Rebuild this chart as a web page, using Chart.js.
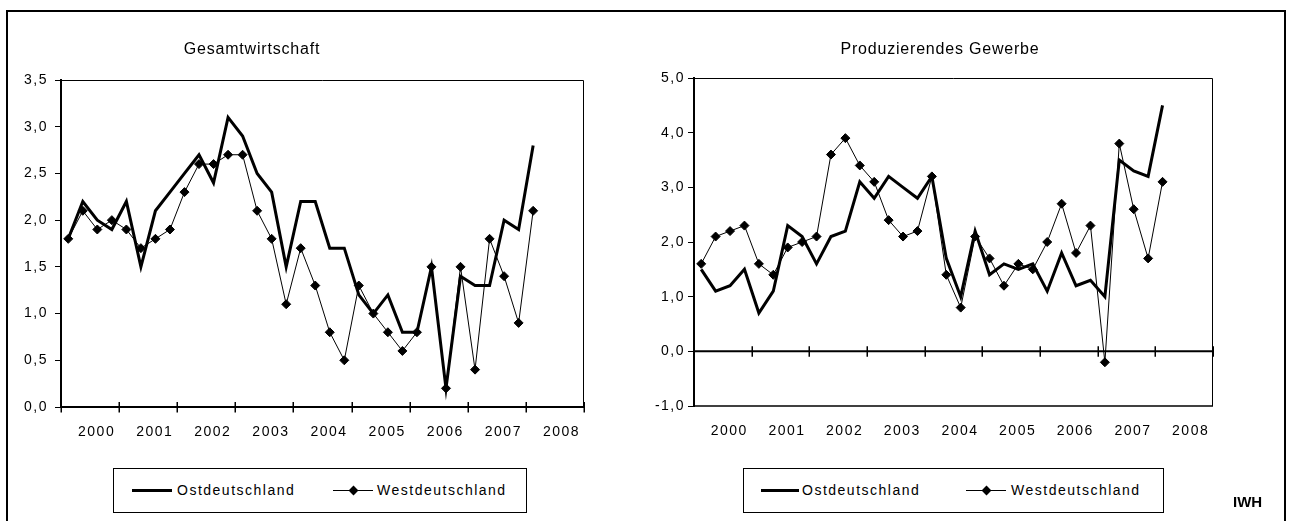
<!DOCTYPE html>
<html>
<head>
<meta charset="utf-8">
<script src="https://cdn.jsdelivr.net/npm/chart.js@4/dist/chart.umd.min.js"></script>
<style>
html,body{margin:0;padding:0;background:#fff;}
body{width:1289px;height:521px;position:relative;overflow:hidden;font-family:"Liberation Sans",Arial,sans-serif;color:#000;}
#frame{position:absolute;left:6px;top:10px;width:1280px;height:600px;border:2px solid #000;box-sizing:border-box;}
canvas{position:absolute;top:0;}
.title{position:absolute;font-size:16px;letter-spacing:0.8px;white-space:nowrap;transform:translate(-50%,-50%);}
.legend{position:absolute;top:468px;height:45px;border:1px solid #000;box-sizing:border-box;background:#fff;}
.ltxt{position:absolute;font-size:14px;letter-spacing:1.5px;white-space:nowrap;transform:translateY(-50%);}
.lline{position:absolute;background:#000;}
.ldia{position:absolute;width:7px;height:7px;background:#000;transform:rotate(45deg);}
#iwh{position:absolute;left:1233px;top:493px;font-size:15px;font-weight:bold;}
</style>
</head>
<body>
<div id="frame"></div>
<canvas id="c1" width="640" height="521" style="left:0px"></canvas>
<canvas id="c2" width="649" height="521" style="left:640px"></canvas>
<div class="title" style="left:252px;top:49px">Gesamtwirtschaft</div>
<div class="title" style="left:940px;top:49px">Produzierendes Gewerbe</div>

<div class="legend" style="left:113px;width:414px"></div>
<div class="lline" style="left:132px;top:488.5px;width:40px;height:3px"></div>
<div class="ltxt" style="left:177px;top:490px">Ostdeutschland</div>
<div class="lline" style="left:333px;top:489.5px;width:40px;height:1px"></div>
<div class="ldia" style="left:349.5px;top:486.5px"></div>
<div class="ltxt" style="left:377px;top:490px">Westdeutschland</div>

<div class="legend" style="left:743px;width:421px"></div>
<div class="lline" style="left:761px;top:488.5px;width:38px;height:3px"></div>
<div class="ltxt" style="left:802px;top:490px">Ostdeutschland</div>
<div class="lline" style="left:966px;top:489.5px;width:40px;height:1px"></div>
<div class="ldia" style="left:982.5px;top:486.5px"></div>
<div class="ltxt" style="left:1011px;top:490px">Westdeutschland</div>

<div id="iwh">IWH</div>

<script>
// ---- data ----
const quarters = [
  'I/2000','II/2000','III/2000','IV/2000',
  'I/2001','II/2001','III/2001','IV/2001',
  'I/2002','II/2002','III/2002','IV/2002',
  'I/2003','II/2003','III/2003','IV/2003',
  'I/2004','II/2004','III/2004','IV/2004',
  'I/2005','II/2005','III/2005','IV/2005',
  'I/2006','II/2006','III/2006','IV/2006',
  'I/2007','II/2007','III/2007','IV/2007',
  'I/2008'
];
const years = ['2000','2001','2002','2003','2004','2005','2006','2007','2008'];

const gesamtOst  = [1.8,2.2,2.0,1.9,2.2,1.5,2.1,2.3,2.5,2.7,2.4,3.1,2.9,2.5,2.3,1.5,2.2,2.2,1.7,1.7,1.2,1.0,1.2,0.8,0.8,1.5,0.2,1.4,1.3,1.3,2.0,1.9,2.8];
const gesamtWest = [1.8,2.1,1.9,2.0,1.9,1.7,1.8,1.9,2.3,2.6,2.6,2.7,2.7,2.1,1.8,1.1,1.7,1.3,0.8,0.5,1.3,1.0,0.8,0.6,0.8,1.5,0.2,1.5,0.4,1.8,1.4,0.9,2.1];
const prodOst    = [1.5,1.1,1.2,1.5,0.7,1.1,2.3,2.1,1.6,2.1,2.2,3.1,2.8,3.2,3.0,2.8,3.2,1.7,1.0,2.2,1.4,1.6,1.5,1.6,1.1,1.8,1.2,1.3,1.0,3.5,3.3,3.2,4.5];
const prodWest   = [1.6,2.1,2.2,2.3,1.6,1.4,1.9,2.0,2.1,3.6,3.9,3.4,3.1,2.4,2.1,2.2,3.2,1.4,0.8,2.1,1.7,1.2,1.6,1.5,2.0,2.7,1.8,2.3,-0.2,3.8,2.6,1.7,3.1];

const gesamtYTicks  = [0,0.5,1,1.5,2,2.5,3,3.5];
const gesamtYLabels = ['0,0','0,5','1,0','1,5','2,0','2,5','3,0','3,5'];
const prodYTicks    = [-1,0,1,2,3,4,5];
const prodYLabels   = ['-1,0','0,0','1,0','2,0','3,0','4,0','5,0'];

const Q = 4; // quarters per year
const FONT = {family:'"Liberation Sans", Arial, sans-serif', size:14};

const axisFrame = {
  id:'axisFrame',
  beforeDraw(chart){ chart.ctx.letterSpacing = '1.5px'; },
  beforeDatasetsDraw(chart, args, opts){
    const {ctx, chartArea:a, scales:{x, y}} = chart;
    ctx.save();
    ctx.strokeStyle = '#000';
    ctx.lineWidth = 1;
    ctx.beginPath();
    ctx.moveTo(a.left, a.top + 0.5);
    ctx.lineTo(a.right - 0.5, a.top + 0.5);
    ctx.lineTo(a.right - 0.5, a.bottom);
    ctx.stroke();
    if (opts.bottomBorder){
      ctx.lineWidth = 1.5;
      ctx.beginPath();
      ctx.moveTo(a.left, a.bottom);
      ctx.lineTo(a.right, a.bottom);
      ctx.stroke();
    }
    const y0 = y.getPixelForValue(0);
    ctx.lineWidth = 2;
    ctx.beginPath();
    ctx.moveTo(a.left, y0);
    ctx.lineTo(a.right, y0);
    ctx.stroke();
    ctx.lineWidth = 1.5;
    for (let k = 0; k <= years.length; k++){
      const px = Math.round(x.getPixelForValue(k * Q)) + 0.25;
      ctx.beginPath();
      ctx.moveTo(px, y0 - 5);
      ctx.lineTo(px, y0 + 5.5);
      ctx.stroke();
    }
    ctx.restore();
  }
};

function makeChart(id, ost, west, yTicks, yLabels, cfg){
  return new Chart(document.getElementById(id), {
    type:'line',
    data:{
      datasets:[
        {label:'Westdeutschland', order:1,
         data: west.map((v,i)=>({x:i+0.5, y:v})),
         borderColor:'#000', borderWidth:1, tension:0,
         pointStyle:'rectRot', pointRadius:4.5, pointBackgroundColor:'#000',
         pointBorderColor:'#000', pointBorderWidth:1},
        {label:'Ostdeutschland', order:2,
         data: ost.map((v,i)=>({x:i+0.5, y:v})),
         borderColor:'#000', borderWidth:3, tension:0, pointRadius:0,
         borderJoinStyle:'miter'}
      ]
    },
    options:{
      responsive:false, animation:false, devicePixelRatio:1,
      layout:{padding:{top:cfg.top, right:cfg.right, bottom:cfg.bottom, left:0}},
      plugins:{legend:{display:false}, tooltip:{enabled:false}, axisFrame:{bottomBorder:cfg.bottomBorder}},
      scales:{
        x:{
          type:'linear', min:0, max:years.length * Q,
          afterBuildTicks:s=>{ s.ticks = years.map((yr,i)=>({value:i*Q + 2.45})); },
          ticks:{callback:(v,i)=>years[i], font:FONT, color:'#000', padding:17, autoSkip:false, maxRotation:0, minRotation:0},
          grid:{display:false, drawTicks:false},
          border:{display:false},
          afterFit:s=>{ s.height = 40; }
        },
        y:{
          type:'linear', min:yTicks[0], max:yTicks[yTicks.length-1],
          afterBuildTicks:s=>{ s.ticks = yTicks.map(v=>({value:v})); },
          ticks:{callback:(v,i)=>yLabels[i], font:FONT, color:'#000', padding:cfg.ypad},
          grid:{drawOnChartArea:false, tickLength:6, color:'#000', lineWidth:1},
          border:{display:true, color:'#000', width:2},
          afterFit:s=>{ s.width = cfg.yw; }
        }
      }
    },
    plugins:[axisFrame]
  });
}

makeChart('c1', gesamtOst, gesamtWest, gesamtYTicks, gesamtYLabels,
  {top:80, right:56, bottom:74, yw:61, ypad:7, bottomBorder:false});
makeChart('c2', prodOst, prodWest, prodYTicks, prodYLabels,
  {top:78, right:76, bottom:75, yw:54, ypad:3, bottomBorder:true});
</script>
</body>
</html>
